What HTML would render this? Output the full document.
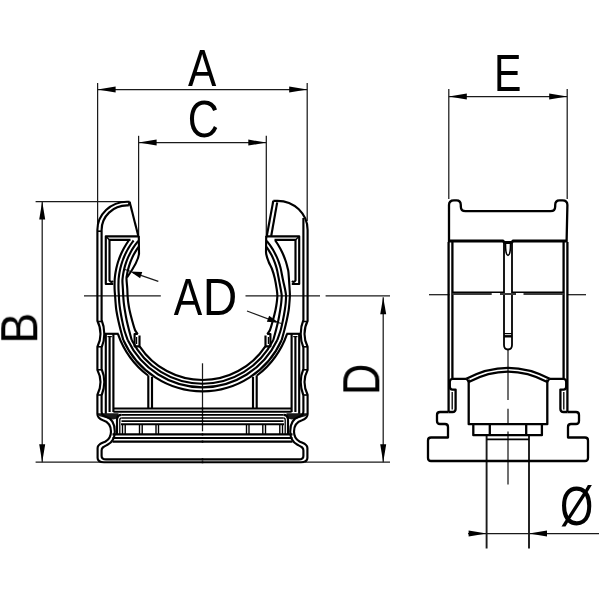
<!DOCTYPE html>
<html><head><meta charset="utf-8"><style>
html,body{margin:0;padding:0;background:#fff;width:600px;height:600px;overflow:hidden}
svg{display:block}
text{font-family:"Liberation Sans",sans-serif;font-size:100px;fill:#000}
</style></head><body>
<svg width="600" height="600" viewBox="0 0 600 600">
<g stroke="#1a1a1a" fill="none" stroke-linecap="butt" stroke-linejoin="round">
<line x1="97.6" y1="89.5" x2="307.2" y2="89.5" stroke-width="1.25" />
<path d="M97.60,89.50 L115.60,86.50 L115.60,92.50 Z" fill="#000" stroke="none"/>
<path d="M307.20,89.50 L289.20,92.50 L289.20,86.50 Z" fill="#000" stroke="none"/>
<line x1="97.6" y1="83" x2="97.6" y2="227" stroke-width="1.25" />
<line x1="307.2" y1="83" x2="307.2" y2="221" stroke-width="1.25" />
<line x1="138.6" y1="142.6" x2="266.3" y2="142.6" stroke-width="1.25" />
<path d="M138.60,142.60 L156.60,139.60 L156.60,145.60 Z" fill="#000" stroke="none"/>
<path d="M266.30,142.60 L248.30,145.60 L248.30,139.60 Z" fill="#000" stroke="none"/>
<line x1="138.6" y1="135.8" x2="138.6" y2="236" stroke-width="1.25" />
<line x1="266.3" y1="135.8" x2="266.3" y2="236" stroke-width="1.25" />
<line x1="42.2" y1="201.6" x2="42.2" y2="462.2" stroke-width="1.25" />
<path d="M42.20,201.60 L45.20,219.60 L39.20,219.60 Z" fill="#000" stroke="none"/>
<path d="M42.20,462.20 L39.20,444.20 L45.20,444.20 Z" fill="#000" stroke="none"/>
<line x1="35.6" y1="201.6" x2="128" y2="201.6" stroke-width="1.25" />
<line x1="35.6" y1="462.2" x2="101" y2="462.2" stroke-width="1.25" />
<line x1="383.2" y1="297.3" x2="383.2" y2="462.2" stroke-width="1.25" />
<path d="M383.20,297.30 L386.20,314.30 L380.20,314.30 Z" fill="#000" stroke="none"/>
<path d="M383.20,462.20 L380.20,444.20 L386.20,444.20 Z" fill="#000" stroke="none"/>
<line x1="305" y1="462.2" x2="390" y2="462.2" stroke-width="1.25" />
<line x1="84" y1="295.9" x2="160.8" y2="295.9" stroke-width="1.25" />
<line x1="245.5" y1="295.9" x2="320" y2="295.9" stroke-width="1.25" />
<line x1="325.6" y1="295.9" x2="390" y2="295.9" stroke-width="1.25" />
<line x1="202.5" y1="363.3" x2="202.5" y2="431.3" stroke-width="1.25" />
<line x1="448.8" y1="96.6" x2="567.2" y2="96.6" stroke-width="1.25" />
<path d="M448.80,96.60 L466.80,93.60 L466.80,99.60 Z" fill="#000" stroke="none"/>
<path d="M567.20,96.60 L549.20,99.60 L549.20,93.60 Z" fill="#000" stroke="none"/>
<line x1="448.8" y1="89" x2="448.8" y2="199" stroke-width="1.25" />
<line x1="567.2" y1="89" x2="567.2" y2="199" stroke-width="1.25" />
<line x1="429" y1="294.7" x2="449.5" y2="294.7" stroke-width="1.25" />
<line x1="567" y1="294.7" x2="586" y2="294.7" stroke-width="1.25" />
<line x1="508" y1="349.5" x2="508" y2="400" stroke-width="1.25" />
<line x1="508" y1="408.7" x2="508" y2="424" stroke-width="1.25" />
<line x1="508" y1="431.5" x2="508" y2="484.6" stroke-width="1.25" />
<line x1="468" y1="533.6" x2="599" y2="533.6" stroke-width="1.25" />
<path d="M486.60,533.60 L468.60,536.60 L468.60,530.60 Z" fill="#000" stroke="none"/>
<path d="M529.00,533.60 L547.00,530.60 L547.00,536.60 Z" fill="#000" stroke="none"/>
<line x1="486.6" y1="435.5" x2="486.6" y2="548.5" stroke-width="1.9" />
<line x1="529.0" y1="435.5" x2="529.0" y2="548.5" stroke-width="1.9" />
<line x1="158.3" y1="281.3" x2="133" y2="272.6" stroke-width="1.25" />
<path d="M130.30,271.40 L142.25,271.98 L140.12,278.23 Z" fill="#000" stroke="none"/>
<line x1="131" y1="271.6" x2="124.8" y2="269.6" stroke-width="1.1" />
<line x1="247" y1="311" x2="276" y2="321.8" stroke-width="1.25" />
<path d="M278.80,322.70 L266.87,321.82 L269.15,315.63 Z" fill="#000" stroke="none"/>
<line x1="278" y1="322.4" x2="281.5" y2="323.6" stroke-width="1.1" />
</g>
<g opacity="0.999"><text transform="translate(188.00,85.80) scale(0.4242,0.5261)" x="0" y="0">A</text>
<text transform="translate(187.84,137.08) scale(0.4317,0.5183)" x="0" y="0">C</text>
<text transform="translate(494.11,91.10) scale(0.4111,0.5174)" x="0" y="0">E</text>
<text transform="translate(173.80,314.80) scale(0.4273,0.5217)" x="0" y="0">A</text>
<text transform="translate(202.68,314.80) scale(0.4780,0.5217)" x="0" y="0">D</text>
<text transform="translate(559.89,524.91) scale(0.4286,0.5459)" x="0" y="0">Ø</text>
<text transform="translate(37.00,343.73) rotate(-90) scale(0.4660,0.5246)" x="0" y="0">B</text>
<text transform="translate(379.00,395.07) rotate(-90) scale(0.4339,0.5130)" x="0" y="0">D</text></g>
<g stroke="#000" fill="none" stroke-linejoin="round">
<g id="lh">
<path d="M138.6,236.3 L105.8,236.3 L105.8,284 L113.2,284" stroke-width="2.15" />
<path d="M130.5,239.9 L109.5,239.9 L109.5,280.5 Q111,283 113,281" stroke-width="2.15" />
<path d="M105.8,236.3 L109.5,239.9" stroke-width="1.4" />
<path d="M115.10,296.00 C115.27,298.33 115.40,300.67 115.60,303.00 C115.80,305.33 115.87,307.17 116.30,310.00 C116.73,312.83 117.48,316.67 118.20,320.00 C118.92,323.33 119.75,326.67 120.60,330.00 C121.45,333.33 122.84,338.33 123.29,340.00" stroke-width="2.15" />
<path d="M118.90,296.00 C119.03,298.33 119.08,300.67 119.30,303.00 C119.52,305.33 119.75,307.17 120.20,310.00 C120.65,312.83 121.32,316.67 122.00,320.00 C122.68,323.33 123.35,326.67 124.30,330.00 C125.25,333.33 127.13,338.33 127.70,340.00" stroke-width="2.15" />
<path d="M123.25,296.00 C123.40,298.33 123.54,300.67 123.80,303.00 C124.06,305.33 124.33,307.17 124.80,310.00 C125.27,312.83 125.90,316.67 126.60,320.00 C127.30,323.33 128.15,326.67 129.00,330.00 C129.85,333.33 131.25,338.33 131.70,340.00" stroke-width="2.15" />
<path d="M127.60,296.00 C127.77,298.33 127.98,300.67 128.30,303.00 C128.62,305.33 128.88,307.17 129.50,310.00 C130.12,312.83 131.08,316.67 132.00,320.00 C132.92,323.33 134.03,327.67 135.00,330.00 C135.97,332.33 137.33,333.33 137.80,334.00" stroke-width="2.15" />
<path d="M123.29,340.00 A86.8,86.8 0 0 0 202.5,391.30" stroke-width="2.15" />
<path d="M127.70,340.00 A82.8,82.8 0 0 0 202.5,387.30" stroke-width="2.15" />
<path d="M131.70,340.00 A79.2,79.2 0 0 0 202.5,383.70" stroke-width="2.15" />
<path d="M139.63,346.30 A75.5,75.5 0 0 0 202.5,380.00" stroke-width="2.15" />
<path d="M137.8,334 L134.6,334 L134.6,346.3 L139.5,346.3 L139.5,335.5" stroke-width="2.15" />
<path d="M136.6,337 L136.6,344" stroke-width="1.2" />
<path d="M117.93,333.80 A89.5,89.5 0 0 0 148.01,375.50" stroke-width="2.15" />
<path d="M104,333.8 L118.6,333.8" stroke-width="2.15" />
<path d="M105.8,333.8 L105.8,414" stroke-width="2.15" />
<path d="M109.6,336.5 L109.6,412" stroke-width="2.15" />
<path d="M113.4,333.8 L113.4,412" stroke-width="2.15" />
<path d="M107.5,336.6 L111.8,336.6" stroke-width="1.2" />
<path d="M148.3,375.3 L148.3,408.8" stroke-width="2.15" />
<path d="M152,376.8 L152,408.8" stroke-width="2.15" />
<path d="M97.6,413.3 L118.5,413.3 L118.5,418.2 L113,419.6 C109,418.6 105,417.8 101.5,416.8 C98.8,416 97.6,415.2 97.6,413.3 Z" fill="#1a1a1a" stroke="none"/>
<path d="M113.4,408.5 L203.3,408.5" stroke-width="2.0" />
<path d="M113.4,411.8 L203.3,411.8" stroke-width="2.0" />
<path d="M121.5,414.9 L203.3,414.9" stroke-width="1.6" />
<path d="M121.5,418.0 L203.3,418.0" stroke-width="1.6" />
<path d="M121.5,421.1 L203.3,421.1" stroke-width="1.6" />
<path d="M121,424.3 L203.3,424.3" stroke-width="2.0" />
<path d="M112.5,434.3 L203.3,434.3" stroke-width="2.15" />
<path d="M112.5,438.0 L203.3,438.0" stroke-width="2.15" />
<path d="M112.5,441.6 L203.3,441.6" stroke-width="2.15" />
<path d="M122.5,424.3 L122.5,434.3" stroke-width="1.4" />
<path d="M125.2,424.3 L125.2,434.3" stroke-width="1.4" />
<path d="M139.5,424.3 L139.5,434.3" stroke-width="1.4" />
<path d="M142.2,424.3 L142.2,434.3" stroke-width="1.4" />
<path d="M156,424.3 L156,434.3" stroke-width="1.4" />
<path d="M158.5,424.3 L158.5,434.3" stroke-width="1.4" />
<path d="M121.5,414.9 Q117,414.9 117,419.5 L117,434.3" stroke-width="2.15" />
<path d="M121.5,418 Q119.8,418 119.8,420 L119.8,434.3" stroke-width="1.3" />
<path d="M97.4,230 L97.4,321 C99.1,324.2 100.5,329 100.5,334 C100.5,339 99.1,343.5 97.4,346.8 L97.4,370 C99.1,373.2 100.5,377.5 100.5,382 C100.5,387 99.1,391.5 97.4,394.8 L97.4,414 C97.4,417 99.5,419 103,420.3 C107.5,421.8 111,425.5 111,431.5 C111,436.5 109,439.5 105.5,441.5 C102,443.3 97.6,444 97.6,448 L97.6,458 C97.6,461 100,462.2 104,462.2 L203.3,462.2" stroke-width="2.15" />
<path d="M101.6,230 L101.6,320 C103.1,323.5 104.3,328.5 104.3,334 C104.3,339.5 103.1,344 101.6,347.5 L101.6,369 C103.1,372.5 104.3,377 104.3,382 C104.3,387 103.1,391.5 101.6,395.5 L101.6,411.5 C101.6,414 103,415.8 106,416.8 C111.5,418.5 114.8,424 114.8,431.5 C114.8,438.5 112,442.5 107.5,444.8 C104,446.5 101.6,447.2 101.6,450.5 L101.6,456 C101.6,458.5 103.5,459.4 106,459.4 L203.3,459.4" stroke-width="2.15" />
<path d="M97.4,321.5 L101.6,321.5" stroke-width="1.6" />
<path d="M97.4,346.8 L101.6,346.8" stroke-width="1.6" />
<path d="M97.4,369.8 L101.6,369.8" stroke-width="1.6" />
<path d="M97.4,395.0 L101.6,395.0" stroke-width="1.6" />
</g>
<use href="#lh" transform="translate(405,0) scale(-1,1)"/>
<path d="M128.75,240.50 C128.31,241.17 126.91,243.17 126.08,244.50 C125.25,245.83 124.48,247.17 123.76,248.50 C123.03,249.83 122.36,251.17 121.74,252.50 C121.11,253.83 120.53,255.17 120.00,256.50 C119.46,257.83 118.97,259.17 118.52,260.50 C118.07,261.83 117.67,263.17 117.29,264.50 C116.92,265.83 116.59,267.17 116.30,268.50 C116.00,269.83 115.75,271.17 115.53,272.50 C115.31,273.83 115.12,275.17 114.97,276.50 C114.82,277.83 114.69,278.42 114.63,280.50 C114.57,282.58 114.52,286.42 114.60,289.00 C114.68,291.58 114.93,293.67 115.10,296.00" stroke-width="2.15" />
<path d="M133.61,240.50 C133.13,241.17 131.62,243.17 130.73,244.50 C129.83,245.83 129.00,247.17 128.23,248.50 C127.45,249.83 126.74,251.17 126.07,252.50 C125.40,253.83 124.79,255.17 124.22,256.50 C123.65,257.83 123.13,259.17 122.65,260.50 C122.17,261.83 121.74,263.17 121.35,264.50 C120.96,265.83 120.61,267.17 120.30,268.50 C119.99,269.83 119.72,271.17 119.48,272.50 C119.25,273.83 119.06,275.17 118.90,276.50 C118.74,277.83 118.61,278.42 118.54,280.50 C118.47,282.58 118.44,286.42 118.50,289.00 C118.56,291.58 118.77,293.67 118.90,296.00" stroke-width="2.15" />
<path d="M138.30,240.89 C137.78,241.56 136.16,243.56 135.20,244.89 C134.24,246.22 133.36,247.56 132.54,248.89 C131.71,250.22 130.96,251.56 130.25,252.89 C129.55,254.22 128.90,255.56 128.30,256.89 C127.71,258.22 127.16,259.56 126.66,260.89 C126.16,262.22 125.71,263.56 125.30,264.89 C124.90,266.22 124.53,267.56 124.21,268.89 C123.89,270.22 123.61,271.56 123.37,272.89 C123.14,274.22 122.94,275.56 122.78,276.89 C122.62,278.22 122.40,278.87 122.42,280.89 C122.44,282.91 122.76,286.48 122.90,289.00 C123.04,291.52 123.10,293.67 123.25,296.00" stroke-width="2.15" />
<path d="M138.60,246.85 C138.15,247.51 136.74,249.51 135.91,250.85 C135.09,252.18 134.33,253.51 133.63,254.85 C132.93,256.18 132.29,257.51 131.70,258.85 C131.11,260.18 130.58,261.51 130.10,262.85 C129.61,264.18 129.18,265.51 128.79,266.85 C128.40,268.18 128.06,269.51 127.76,270.85 C127.46,272.18 127.21,273.51 127.00,274.85 C126.79,276.18 126.44,276.49 126.49,278.85 C126.54,281.20 127.12,286.14 127.30,289.00 C127.48,291.86 127.43,293.67 127.60,296.00" stroke-width="2.15" />
<path d="M138.8,236 L139,254 C138.3,261 133,269 127,277.5" stroke-width="2.15" />
<g transform="translate(405,0) scale(-1,1)"><path d="M129.75,240.50 C129.31,241.17 127.91,243.17 127.08,244.50 C126.25,245.83 125.48,247.17 124.76,248.50 C124.03,249.83 123.36,251.17 122.74,252.50 C122.11,253.83 121.53,255.17 121.00,256.50 C120.46,257.83 119.97,259.17 119.52,260.50 C119.07,261.83 118.67,263.17 118.29,264.50 C117.92,265.83 117.59,267.17 117.30,268.50 C117.00,269.83 116.84,269.08 116.53,272.50 C116.21,275.92 115.64,285.08 115.40,289.00 C115.16,292.92 115.07,293.67 115.10,296.00" stroke-width="2.15" />
<path d="M138.30,240.89 C137.78,241.56 136.16,243.56 135.20,244.89 C134.24,246.22 133.36,247.56 132.54,248.89 C131.71,250.22 130.96,251.56 130.25,252.89 C129.55,254.22 128.90,255.56 128.30,256.89 C127.71,258.22 127.16,259.56 126.66,260.89 C126.16,262.22 125.71,263.56 125.30,264.89 C124.90,266.22 124.76,266.37 124.21,268.89 C123.66,271.41 122.70,276.65 122.00,280.00 C121.30,283.35 120.52,286.33 120.00,289.00 C119.48,291.67 119.02,293.67 118.90,296.00" stroke-width="2.15" />
<path d="M138.60,246.85 C138.15,247.51 136.74,249.51 135.91,250.85 C135.09,252.18 134.33,253.51 133.63,254.85 C132.93,256.18 132.29,257.51 131.70,258.85 C131.11,260.18 130.58,261.51 130.10,262.85 C129.61,264.18 129.18,265.51 128.79,266.85 C128.40,268.18 128.23,268.65 127.76,270.85 C127.30,273.04 126.58,276.97 126.00,280.00 C125.42,283.03 124.76,286.33 124.30,289.00 C123.84,291.67 123.33,293.67 123.25,296.00" stroke-width="2.15" />
<path d="M138.80,236.00 C138.82,237.67 138.90,243.00 138.90,246.00 C138.90,249.00 139.23,251.33 138.80,254.00 C138.37,256.67 137.27,259.50 136.30,262.00 C135.33,264.50 134.00,266.33 133.00,269.00 C132.00,271.67 131.08,274.67 130.30,278.00 C129.52,281.33 128.75,286.00 128.30,289.00 C127.85,292.00 127.60,293.67 127.60,296.00" stroke-width="2.15" /></g>
<g stroke-width="2.3"><path d="M449,242 L449,205 Q449,200.3 454,200.3 L456.5,200.3 Q460.8,200.3 460.8,205 L460.8,206.5 Q460.8,211.2 465.5,211.2 L550.5,211.2 Q555.2,211.2 555.2,206.5 L555.2,205 Q555.2,200.3 559.5,200.3 L562.5,200.3 Q567.4,200.3 567.4,205 L566.6,242" stroke-width="2.3" />
<path d="M449,241 L503,241 Q504,242.6 505.5,242.6 L510.5,242.6 Q512,242.6 513,241 L566.6,241" stroke-width="3.0" />
<path d="M504,241 L504,345 Q504,349.5 508,349.5 Q512,349.5 512,345 L512,241" stroke-width="1.8" />
<path d="M505.4,242.8 C505.4,250.5 506.4,255.3 508,255.3 C509.6,255.3 510.6,250.5 510.6,242.8" stroke-width="1.7" />
<path d="M504,333.6 L512,333.6" stroke-width="1.2" />
<path d="M504,336.3 L512,336.3" stroke-width="2.4" />
<path d="M448.6,242 L448.6,412" stroke-width="2.3" />
<path d="M452.4,242 L452.4,378.8 L466.3,378.8" stroke-width="2.3" />
<path d="M567.4,242 L567.4,412" stroke-width="2.3" />
<path d="M563.6,242 L563.6,378.8 L549.7,378.8" stroke-width="2.3" />
<path d="M452.4,292.3 L504,292.3 M512,292.3 L563.6,292.3" stroke-width="1.4" />
<path d="M452.4,294.0 L491.7,294.0 M500,294.0 L516,294.0 M523.5,294.0 L563.6,294.0" stroke="#3a3a3a" stroke-width="2.0"/>
<path d="M452.4,378.8 Q449.8,379 449.8,382 L449.8,386.5 Q449.8,389.6 452.5,389.6 L455.6,389.6 L455.6,409 Q455.6,412 452.5,412 L448.6,412" stroke-width="2.3" />
<path d="M452.2,392 L452.2,409.5" stroke-width="1.3" />
<path d="M563.6,378.8 Q566.2,379 566.2,382 L566.2,386.5 Q566.2,389.6 563.5,389.6 L560.4,389.6 L560.4,409 Q560.4,412 563.5,412 L567.4,412" stroke-width="2.3" />
<path d="M563.8,392 L563.8,409.5" stroke-width="1.3" />
<path d="M448.6,412 L440,412 Q437,412 437,415 L437,421 Q437,424 440,424 L445,424 Q448,424 448,427 L448,437.5 L431,437.5 Q428,437.5 428,440.5 L428,458 Q428,461 431,461 L585,461 Q588,461 588,458 L588,440.5 Q588,437.5 585,437.5 L568,437.5 L568,427 Q568,424 571,424 L576,424 Q579,424 579,421 L579,415 Q579,412 576,412 L567.4,412" stroke-width="2.3" />
<path d="M466.3,378.8 Q508,357 549.7,378.8" stroke-width="2.3" />
<path d="M468.7,381.9 Q508,361.2 547.3,381.9" stroke-width="2.3" />
<path d="M466.3,378.8 L468.7,381.9 M549.7,378.8 L547.3,381.9" stroke-width="1.8" />
<path d="M468.7,379.5 L468.7,424.2 L547.3,424.2 L547.3,379.5" stroke-width="2.3" />
<path d="M473.3,424.2 L473.3,435.2 L541.9,435.2 L541.9,424.2" stroke-width="2.3" />
<path d="M489.8,424.2 L489.8,435.2 M526.2,424.2 L526.2,435.2" stroke-width="2.3" />
<path d="M486.6,439.4 L529,439.4" stroke-width="1.9" /></g>
<path d="M97.4,230 A29.6,28.3 0 0 1 127,201.7 L129.6,201.7" stroke-width="2.15" />
<path d="M101.6,230 A25.4,24.6 0 0 1 127,205.4 L128.8,205.4" stroke-width="2.15" />
<path d="M129.6,201.7 L128.8,205.4" stroke-width="2.15" />
<path d="M129.6,201.7 L138.3,236" stroke-width="2.15" />
<path d="M97.4,231.2 L101.6,231.2" stroke-width="1.6" />
<path d="M307.6,230 A30.1,29.2 0 0 0 277.5,200.8 L273.3,200.8" stroke-width="2.15" />
<path d="M273.3,200.8 L266.6,237" stroke-width="2.15" />
<path d="M277.2,202.4 L271.2,236" stroke-width="2.15" />
<path d="M303.4,218 L303.4,230" stroke-width="2.15" />
</g>
</svg>
</body></html>
